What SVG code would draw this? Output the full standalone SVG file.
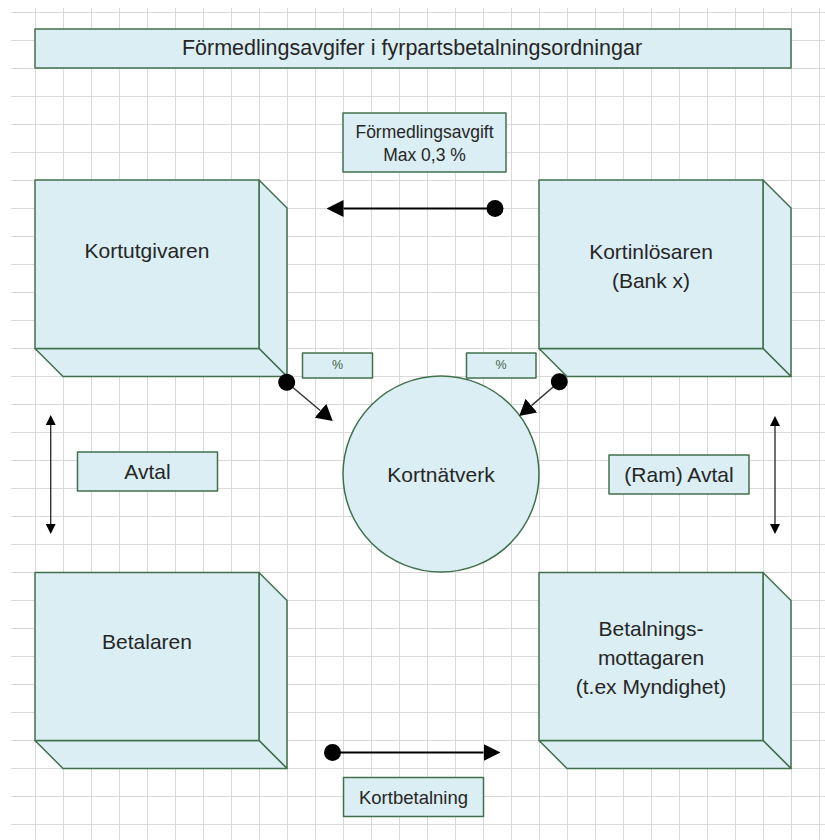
<svg xmlns="http://www.w3.org/2000/svg" width="825" height="840" viewBox="0 0 825 840">
<defs>
<pattern id="grid" patternUnits="userSpaceOnUse" x="7" y="12" width="28" height="28">
<path d="M0.5 0V28M0 0.5H28" stroke="#d9d9d9" stroke-width="1" fill="none"/>
</pattern>
<marker id="tri" viewBox="0 -9 17 18" refX="0" refY="0" markerWidth="17" markerHeight="18" markerUnits="userSpaceOnUse" orient="auto">
<path d="M0 -8.5L17 0L0 8.5Z" fill="#000"/>
</marker>
<marker id="tri2" viewBox="0 -9.5 16 19" refX="0" refY="0" markerWidth="16" markerHeight="19" markerUnits="userSpaceOnUse" orient="auto">
<path d="M0 -9L16 0L0 9Z" fill="#000"/>
</marker>
<marker id="tris" viewBox="0 -5 10 10" refX="0" refY="0" markerWidth="10" markerHeight="10" markerUnits="userSpaceOnUse" orient="auto-start-reverse">
<path d="M0 -5L10 0L0 5Z" fill="#000"/>
</marker>
<marker id="dot" viewBox="-9 -9 18 18" refX="0" refY="0" markerWidth="18" markerHeight="18" markerUnits="userSpaceOnUse" orient="auto">
<circle r="8.5" fill="#000"/>
</marker>
</defs>
<style>
.box{fill:#daeef3;stroke:#41704e;stroke-width:1.5;stroke-linejoin:round}
.t{font-family:"Liberation Sans",Arial,sans-serif;fill:#262626;text-anchor:middle;dominant-baseline:central}
.big{font-size:21px}
.ttl{font-size:21.5px}
.mid{font-size:18.5px}
.sm{font-size:17.5px}
.pct{font-size:12.5px;fill:#3d5f48}
.arr{stroke:#000;stroke-width:2;fill:none}
.arr2{stroke:#333;stroke-width:1.4;fill:none}
</style>
<rect x="0" y="0" width="825" height="840" fill="#fff"/>
<rect x="11" y="8" width="814" height="832" fill="url(#grid)"/>

<g id="title">
<rect class="box" x="35" y="29" width="756" height="39"/>
<text class="t ttl" x="412" y="48">Förmedlingsavgifer i fyrpartsbetalningsordningar</text>
</g>

<g id="fee">
<rect class="box" x="343" y="113" width="163" height="59"/>
<text class="t sm" x="424.5" y="132">Förmedlingsavgift</text>
<text class="t sm" x="424.5" y="154.5">Max 0,3 %</text>
</g>

<g id="kortutgivaren">
<path class="box" d="M259 180L287 208L287 376.5L259 348.5Z"/>
<path class="box" d="M35 348.5L259 348.5L287 376.5L63 376.5Z"/>
<rect class="box" x="35" y="180" width="224" height="168.5"/>
<text class="t big" x="147" y="250">Kortutgivaren</text>
</g>

<g id="kortinlosaren">
<path class="box" d="M763 180L791 208L791 376.5L763 348.5Z"/>
<path class="box" d="M539 348.5L763 348.5L791 376.5L567 376.5Z"/>
<rect class="box" x="539" y="180" width="224" height="168.5"/>
<text class="t big" x="651" y="251">Kortinlösaren</text>
<text class="t big" x="651" y="280">(Bank x)</text>
</g>

<g id="betalaren">
<path class="box" d="M259 572.5L287 600.5L287 768.5L259 740.5Z"/>
<path class="box" d="M35 740.5L259 740.5L287 768.5L63 768.5Z"/>
<rect class="box" x="35" y="572.5" width="224" height="168"/>
<text class="t big" x="147" y="641">Betalaren</text>
</g>

<g id="betalningsmottagaren">
<path class="box" d="M763 572.5L791 600.5L791 768.5L763 740.5Z"/>
<path class="box" d="M539 740.5L763 740.5L791 768.5L567 768.5Z"/>
<rect class="box" x="539" y="572.5" width="224" height="168"/>
<text class="t big" x="651" y="628">Betalnings-</text>
<text class="t big" x="651" y="657">mottagaren</text>
<text class="t big" x="651" y="686">(t.ex Myndighet)</text>
</g>

<g id="kortnatverk">
<circle class="box" cx="441" cy="474" r="98"/>
<text class="t big" x="441" y="474">Kortnätverk</text>
</g>

<g id="pct-left">
<rect class="box" x="302.5" y="353" width="70" height="25"/>
<text class="t pct" x="337.5" y="365">%</text>
</g>
<g id="pct-right">
<rect class="box" x="466.5" y="353" width="69.5" height="25"/>
<text class="t pct" x="501" y="365">%</text>
</g>

<g id="avtal">
<rect class="box" x="77.5" y="452" width="140" height="39"/>
<text class="t big" x="147.5" y="471.5">Avtal</text>
</g>

<g id="ramavtal">
<rect class="box" x="609" y="455" width="140" height="39"/>
<text class="t big" x="679" y="474.5">(Ram) Avtal</text>
</g>

<g id="kortbetalning">
<rect class="box" x="343.5" y="777.5" width="140" height="39"/>
<text class="t mid" x="413.5" y="797">Kortbetalning</text>
</g>

<g id="connectors">
<line class="arr" x1="495" y1="208.5" x2="343.5" y2="208.5" marker-start="url(#dot)" marker-end="url(#tri)"/>
<line class="arr" x1="332.5" y1="752.5" x2="483.5" y2="752.5" marker-start="url(#dot)" marker-end="url(#tri)"/>
<line class="arr2" x1="286.7" y1="382.3" x2="320.5" y2="410.7" marker-start="url(#dot)" marker-end="url(#tri2)"/>
<line class="arr2" x1="559.3" y1="381.7" x2="531.4" y2="405.6" marker-start="url(#dot)" marker-end="url(#tri2)"/>
<line class="arr2" x1="50.7" y1="425" x2="50.7" y2="524" marker-start="url(#tris)" marker-end="url(#tris)"/>
<line class="arr2" x1="775" y1="426" x2="775" y2="524" marker-start="url(#tris)" marker-end="url(#tris)"/>
</g>
</svg>
